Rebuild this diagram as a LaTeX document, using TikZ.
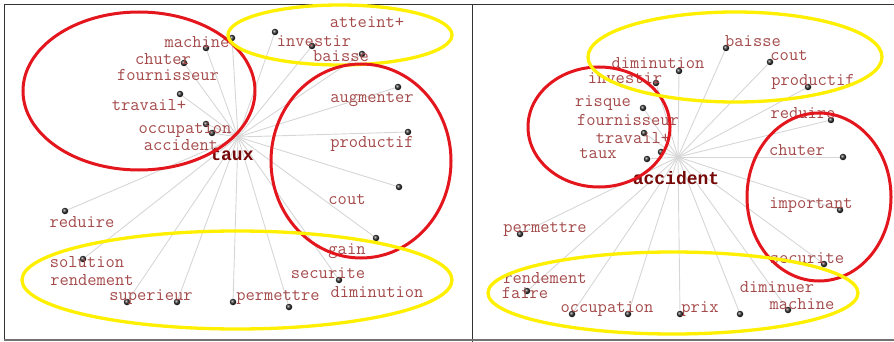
\documentclass[tikz,border=0pt]{standalone}
\usepackage{fontspec}
\newfontfamily\hubfont{Liberation Mono}
\usetikzlibrary{backgrounds}
\definecolor{lbl}{HTML}{A44A4A}
\definecolor{hubtxt}{HTML}{760808}
\definecolor{ringred}{HTML}{E3161E}
\definecolor{ringyel}{HTML}{FFEF00}
\definecolor{spokegray}{HTML}{D6D6D6}
\begin{document}
\begin{tikzpicture}[x=1pt,y=-1pt,
  word/.style={font=\ttfamily\fontsize{18}{18}\selectfont, text=lbl, inner sep=0pt,
               text height=11pt, text depth=3pt},
  hubword/.style={font=\hubfont\bfseries\fontsize{18}{18}\selectfont, text=hubtxt,
               inner sep=0pt, text height=10pt, text depth=3pt},
  dot/.style={circle, inner sep=0pt, minimum size=6.5pt, ball color=black!80},
  spoke/.style={draw=spokegray, line width=0.9pt},
  redring/.style={draw=ringred, line width=3pt},
  yelring/.style={draw=ringyel, line width=3.3pt},
  frame/.style={draw=black!80, line width=1pt}]
\useasboundingbox (0,0) rectangle (894,342);

% panel frames
\draw[frame] (4,341) -- (4,5) -- (894,5);
\draw[frame] (472,5) -- (472,342);
\draw[draw=black!55, line width=1.2pt] (4,340) -- (894,340);

% ---------- left panel: "taux" ----------
\coordinate (hubL) at (238,137);
\foreach \i/\x/\y in {1/206/48, 2/184/63, 3/180/94, 4/206/124, 5/212/133,
                      6/232/38, 7/275/32, 8/312/46, 9/362/54, 10/398/87,
                      11/408/132, 12/399/187, 13/376/238, 14/339/280, 15/289/307,
                      16/233/302, 17/177/302, 18/127/302, 19/83/259, 20/65/211}
  \node[dot] (L\i) at (\x,\y) {};
\begin{scope}[on background layer]
  \foreach \i in {1,...,20} \draw[spoke] (hubL) -- (L\i);
\end{scope}

\node[word] (lmachine)  at (197,44)  {machine};
\node[word] (lchuter)   at (163,61)  {chuter};
\node[word] (lfourn)    at (168,77)  {fournisseur};
\node[word] (ltravail)  at (149,107) {travail+};
\node[word] (loccup)    at (185,130) {occupation};
\node[word] (lacc)      at (181,146) {accident};
\node[word] (latteint)  at (367,24)  {atteint+};
\node[word] (linvest)   at (314,43)  {investir};
\node[word] (lbaisse)   at (341,58)  {baisse};
\node[word] (laugm)     at (372,99)  {augmenter};
\node[word] (lprod)     at (372,144) {productif};
\node[word] (lcout)     at (347,200) {cout};
\node[word] (lgain)     at (347,250) {gain};
\node[word] (lsecur)    at (328,274) {securite};
\node[word] (ldimin)    at (377,293) {diminution};
\node[word] (lpermet)   at (278,296) {permettre};
\node[word] (lreduire)  at (82,223)  {reduire};
\node[word] (lsolution) at (87,263)  {solution};
\node[word] (lrendem)   at (92,281)  {rendement};
\node[word] (lsuper)    at (151,296) {superieur};
\node[hubword] (ltaux)  at (232,157) {taux};

\draw[redring] (139,91) ellipse [x radius=116pt, y radius=79pt];
\draw[yelring] (340,35) ellipse [x radius=112pt, y radius=30pt];
\draw[redring] (361,161) ellipse [x radius=90pt, y radius=97pt];
\draw[yelring] (237,280) ellipse [x radius=215pt, y radius=49pt];

% ---------- right panel: "accident" ----------
\coordinate (hubR) at (678,157);
\foreach \i/\x/\y in {1/679/71, 2/656/83, 3/643/108, 4/644/133, 5/647/159,
                      6/661/152, 7/726/48, 8/770/62, 9/808/87, 10/831/120,
                      11/843/157, 12/840/210, 13/824/264, 14/788/310, 15/740/314,
                      16/680/314, 17/628/314, 18/572/314, 19/527/291, 20/520/234}
  \node[dot] (R\i) at (\x,\y) {};
\begin{scope}[on background layer]
  \foreach \i in {1,...,20} \draw[spoke] (hubR) -- (R\i);
\end{scope}

\node[word] (rdimin)    at (658,65)  {diminution};
\node[word] (rinvest)   at (625,80)  {investir};
\node[word] (rrisque)   at (603,103) {risque};
\node[word] (rfourn)    at (628,122) {fournisseur};
\node[word] (rtravail)  at (633,140) {travail+};
\node[word] (rtaux)     at (598,154) {taux};
\node[word] (rbaisse)   at (753,43)  {baisse};
\node[word] (rcout)     at (789,57)  {cout};
\node[word] (rprod)     at (813,82)  {productif};
\node[word] (rreduire)  at (803,115) {reduire};
\node[word] (rchuter)   at (797,152) {chuter};
\node[word] (rimport)   at (811,204) {important};
\node[word] (rsecur)    at (807,259) {securite};
\node[word] (rdiminuer) at (777,288) {diminuer};
\node[word] (rmachine)  at (802,305) {machine};
\node[word] (rprix)     at (700,308) {prix};
\node[word] (roccup)    at (607,308) {occupation};
\node[word] (rpermet)   at (545,228) {permettre};
\node[word] (rrendem)   at (545,279) {rendement};
\node[word] (rfaire)    at (525,294) {faire};
\node[hubword] (racc)   at (676,181) {accident};

\draw[redring] (599,127) ellipse [x radius=71pt, y radius=60pt];
\draw[yelring] (735,57) ellipse [x radius=147pt, y radius=45pt];
\draw[redring] (819,197) ellipse [x radius=72pt, y radius=84pt];
\draw[yelring] (673,293) ellipse [x radius=185pt, y radius=41pt];
\end{tikzpicture}
\end{document}
